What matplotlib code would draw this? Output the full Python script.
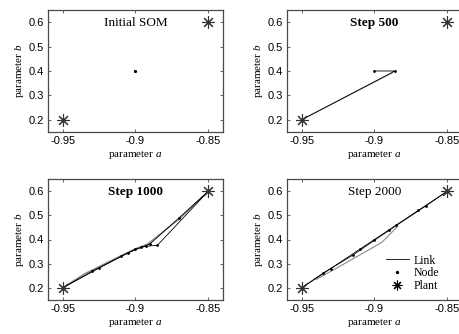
import matplotlib
matplotlib.use("Agg")
import matplotlib.pyplot as plt
import numpy as np

plt.rcParams["mathtext.fontset"] = "custom"
plt.rcParams["mathtext.rm"] = "Liberation Serif"
plt.rcParams["mathtext.it"] = "Liberation Serif:italic"

# ---- data ----
plant_a = [-0.95, -0.85]
plant_b = [0.2, 0.6]

titles = ["Initial SOM", "Step 500", "Step 1000", "Step 2000"]
title_bold = [False, True, True, False]

init_nodes_a = [-0.9, -0.95]
init_nodes_b = [0.4, 0.2]

s500_black_a = [-0.9, -0.886, -0.95]
s500_black_b = [0.4, 0.4, 0.2]
s500_gray_a = [-0.888, -0.95]
s500_gray_b = [0.392, 0.2]

s1000_black1_a = [-0.95, -0.93, -0.91, -0.9, -0.893, -0.885, -0.85]
s1000_black1_b = [0.2, 0.268, 0.33, 0.36, 0.372, 0.376, 0.6]
s1000_black2_a = [-0.95, -0.925, -0.905, -0.896, -0.89, -0.87, -0.85]
s1000_black2_b = [0.2, 0.282, 0.345, 0.368, 0.382, 0.49, 0.6]
s1000_gray_a = [-0.95, -0.935, -0.915, -0.9, -0.892, -0.87, -0.85]
s1000_gray_b = [0.2, 0.258, 0.318, 0.362, 0.38, 0.485, 0.6]

s2000_black1_a = [-0.95, -0.93, -0.91, -0.89, -0.87, -0.85]
s2000_black1_b = [0.2, 0.28, 0.36, 0.44, 0.52, 0.6]
s2000_black2_a = [-0.95, -0.935, -0.915, -0.9, -0.885, -0.865, -0.85]
s2000_black2_b = [0.2, 0.262, 0.335, 0.397, 0.458, 0.538, 0.6]
s2000_gray_a = [-0.94, -0.925, -0.895, -0.884]
s2000_gray_b = [0.235, 0.285, 0.388, 0.455]

xticks = [-0.95, -0.9, -0.85]
xticklabels = ["-0.95", "-0.9", "-0.85"]
yticks = [0.2, 0.3, 0.4, 0.5, 0.6]
yticklabels = ["0.2", "0.3", "0.4", "0.5", "0.6"]

# ---- figure ----
fig = plt.figure(figsize=(4.59, 3.34), dpi=100)
W, H = 459, 334
boxes = [(48, 10, 175, 122), (287, 10, 175, 122), (48, 179, 175, 121), (287, 179, 175, 121)]
serif = "Liberation Serif"
sans = "Liberation Sans"
frame_col = "#4a4a4a"
asterisk = (8, 2, 0)

axes = []
for (x, y, w, h) in boxes:
    ax = fig.add_axes([x / W, 1 - (y + h) / H, w / W, h / H])
    ax.set_xlim(-0.96, -0.84)
    ax.set_ylim(0.15, 0.65)
    ax.set_xticks(xticks)
    ax.set_xticklabels(xticklabels, fontfamily=sans, fontsize=8)
    ax.set_yticks(yticks)
    ax.set_yticklabels(yticklabels, fontfamily=sans, fontsize=8)
    ax.tick_params(direction="in", length=2.5, width=0.6, color=frame_col,
                   top=True, right=True, pad=3)
    for s in ax.spines.values():
        s.set_color(frame_col)
        s.set_linewidth(0.9)
    ax.set_xlabel("parameter $\\mathit{a}$", fontfamily=serif, fontsize=8, labelpad=2)
    ax.set_ylabel("parameter $\\mathit{b}$", fontfamily=serif, fontsize=8, labelpad=2)
    axes.append(ax)

for ax, t, b in zip(axes, titles, title_bold):
    ax.text(0.5, 0.895, t, transform=ax.transAxes, ha="center", va="center",
            fontfamily=serif, fontsize=9.5, fontweight="bold" if b else "normal")

def plants(ax):
    ax.plot(plant_a, plant_b, linestyle="none", marker=asterisk, markersize=9,
            color="#333333", markeredgewidth=0.8)

node_ms = 1.0

# Initial
ax = axes[0]
ax.plot(init_nodes_a, init_nodes_b, linestyle="none", marker="o", markersize=1.3, color="black")
plants(ax)

# Step 500
ax = axes[1]
ax.plot(s500_gray_a, s500_gray_b, color="#8a8a8a", lw=0.8)
ax.plot(s500_black_a, s500_black_b, color="black", lw=0.6, marker="o", markersize=node_ms)
plants(ax)

# Step 1000
ax = axes[2]
ax.plot(s1000_gray_a, s1000_gray_b, color="#8a8a8a", lw=1.0)
ax.plot(s1000_black1_a, s1000_black1_b, color="black", lw=0.6, marker="o", markersize=node_ms)
ax.plot(s1000_black2_a, s1000_black2_b, color="black", lw=0.6, marker="o", markersize=node_ms)
plants(ax)

# Step 2000
ax = axes[3]
ax.plot(s2000_gray_a, s2000_gray_b, color="#8a8a8a", lw=0.8)
ax.plot(s2000_black1_a, s2000_black1_b, color="black", lw=0.6, marker="o", markersize=node_ms)
ax.plot(s2000_black2_a, s2000_black2_b, color="black", lw=0.6, marker="o", markersize=node_ms)
plants(ax)

h1, = ax.plot([], [], color="black", lw=0.6)
h2, = ax.plot([], [], linestyle="none", marker="o", markersize=1.4, color="black")
h3, = ax.plot([], [], linestyle="none", marker=asterisk, markersize=7, color="black",
              markeredgewidth=0.8)
leg = ax.legend([h1, h2, h3], ["Link", "Node", "Plant"], loc="lower left",
                bbox_to_anchor=(0.52, 0.0), frameon=False,
                prop={"family": serif, "size": 8.5}, handlelength=1.9,
                handletextpad=0.4, labelspacing=0.05, borderaxespad=0.3)

fig.savefig("out.png", dpi=100)
